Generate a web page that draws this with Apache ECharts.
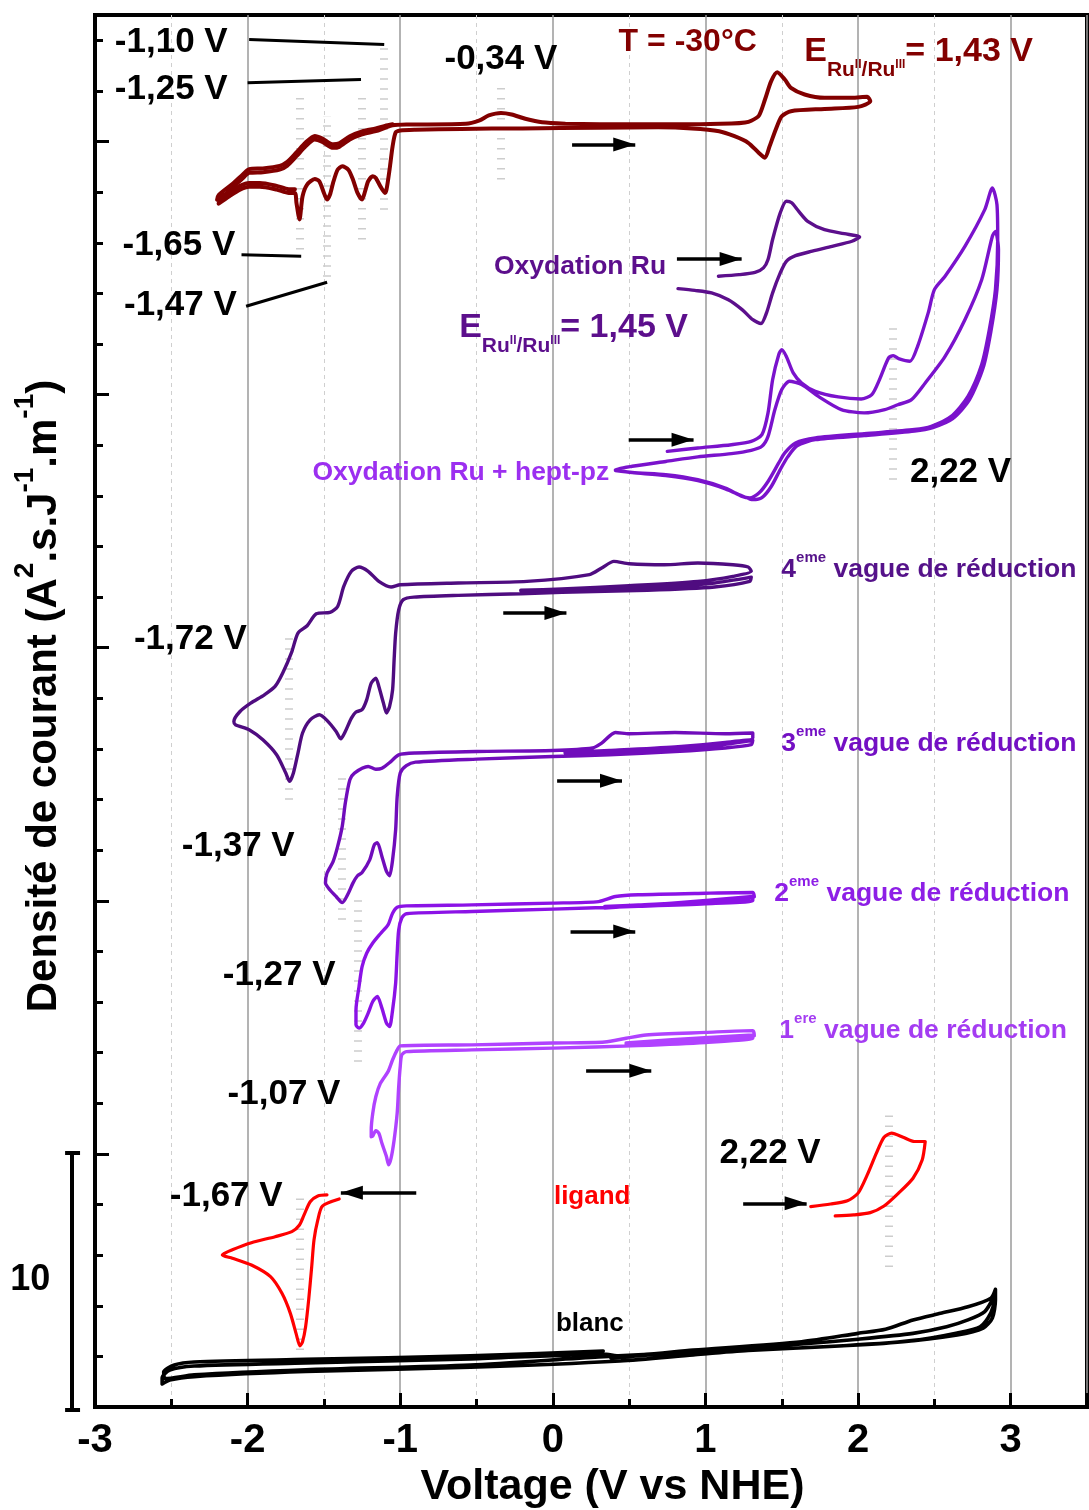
<!DOCTYPE html>
<html>
<head>
<meta charset="utf-8">
<script src="https://cdn.jsdelivr.net/npm/echarts@6/dist/echarts.min.js"></script>
<style>
  html, body { margin: 0; padding: 0; background: #fff; }
  #chart { width: 1089px; height: 1510px; }
</style>
</head>
<body>
<div id="chart"></div>
<script>
// ---- Cyclic voltammograms, potential (V vs NHE) / current density (stacked, arbitrary offset) ----

// T = -30 °C, full scan (dark red) and its second pass on the reduction side
const redScan1 = [
  [0.08,50.70],[0.50,50.68],[0.91,50.68],[1.17,50.71],[1.26,50.75],[1.30,50.82],[1.35,51.02],[1.39,51.66],[1.43,52.38],[1.47,52.74],[1.52,52.45],[1.56,52.12],[1.65,51.86],[1.78,51.73],[1.96,51.73],[2.06,51.77],
  [2.08,51.59],[2.00,51.37],[1.78,51.29],[1.56,51.20],[1.50,51.00],[1.46,50.47],[1.42,49.81],[1.39,49.36],[1.35,49.55],[1.28,49.95],[1.19,50.21],[1.09,50.41],[0.91,50.52],[0.69,50.56],[0.30,50.55],[-0.20,50.52],[-0.60,50.50],[-0.90,50.47],[-1.00,50.44],
  [-1.03,50.36],[-1.05,49.81],[-1.07,48.89],[-1.09,48.10],[-1.10,47.97],[-1.13,48.23],[-1.16,48.56],[-1.18,48.63],[-1.21,48.43],[-1.23,48.04],[-1.25,47.71],[-1.28,47.97],[-1.31,48.50],[-1.34,48.89],[-1.38,49.02],[-1.41,48.89],[-1.44,48.37],[-1.46,47.91],[-1.48,47.71],[-1.50,47.97],[-1.53,48.43],[-1.56,48.52],[-1.61,48.30],[-1.64,47.84],[-1.66,46.92],[-1.68,47.58],[-1.69,47.97],[-1.73,47.97],[-1.81,48.10],[-1.92,48.21],[-1.99,48.21],[-2.05,48.10],[-2.12,47.84],[-2.19,47.55],
  [-2.18,47.71],[-2.10,48.17],[-2.03,48.56],[-1.99,48.76],[-1.90,48.79],[-1.79,48.89],[-1.74,49.05],[-1.68,49.42],[-1.62,49.81],[-1.56,50.08],[-1.51,49.98],[-1.44,49.75],[-1.40,49.79],[-1.33,50.08],[-1.25,50.28],[-1.16,50.41],[-1.10,50.54],[-1.05,50.64],[-0.96,50.67],[-0.57,50.70],[-0.48,50.84],[-0.42,51.03],[-0.34,51.13],[-0.27,51.07],[-0.18,50.90],[-0.07,50.76],[0.08,50.70]
];
const redScan2 = [
  [-1.69,48.12],[-1.73,48.12],[-1.81,48.25],[-1.92,48.36],[-1.99,48.36],[-2.05,48.25],[-2.12,47.99],[-2.20,47.70],[-2.19,47.88],[-2.10,48.32],[-2.03,48.71],[-1.99,48.91],[-1.90,48.94],[-1.79,49.04],[-1.74,49.20],[-1.68,49.57],[-1.62,49.96],[-1.56,50.22],[-1.51,50.12],[-1.44,49.89],[-1.40,49.93],[-1.33,50.21],[-1.25,50.40],[-1.16,50.52],[-1.10,50.62],[-1.05,50.68]
];

// Ru oxidation only
const oxRuScan = [
  [1.085,44.68],[1.22,44.74],[1.325,44.83],[1.38,45.01],[1.41,45.34],[1.44,46.13],[1.49,47.18],[1.53,47.64],[1.565,47.58],[1.61,47.25],[1.67,46.85],[1.78,46.52],[1.91,46.36],[2.01,46.23],
  [1.96,46.06],[1.83,45.86],[1.70,45.67],[1.59,45.49],[1.53,45.27],[1.49,44.81],[1.44,44.02],[1.40,43.23],[1.364,42.81],[1.31,42.96],[1.24,43.36],[1.15,43.75],[1.04,44.02],[0.93,44.12],[0.82,44.19]
];

// Ru oxidation + hept-pz, two cycles
const heptScan = [
  [0.75,37.76],[0.95,37.89],[1.17,38.02],[1.30,38.15],[1.37,38.42],[1.41,39.28],[1.44,40.59],[1.48,41.58],[1.50,41.78],[1.53,41.51],[1.575,40.86],[1.63,40.46],[1.72,40.13],[1.87,39.91],[2.02,39.83],[2.09,40.00],[2.14,40.59],[2.20,41.45],[2.23,41.54],[2.27,41.41],[2.34,41.32],[2.39,41.91],[2.46,43.24],[2.50,44.15],[2.57,44.68],[2.70,45.86],[2.83,47.31],[2.88,48.17],
  [2.91,47.51],[2.915,46.13],[2.90,44.15],[2.86,42.57],[2.81,41.19],[2.72,39.93],[2.61,39.14],[2.48,38.75],[2.37,38.62],[2.04,38.46],[1.72,38.29],[1.59,38.09],[1.52,37.70],[1.48,37.30],[1.41,36.57],[1.35,36.11],[1.29,35.92],[1.24,35.98],[1.13,36.31],[0.95,36.64],[0.74,36.84],[0.52,36.93],[0.41,37.04],
  [0.52,37.17],[0.74,37.36],[0.95,37.54],[1.17,37.67],[1.30,37.80],[1.37,37.96],[1.41,38.35],[1.455,39.41],[1.50,40.20],[1.55,40.53],[1.63,40.40],[1.74,39.93],[1.89,39.41],[2.04,39.28],[2.175,39.41],[2.26,39.60],[2.35,39.80],[2.44,40.46],[2.57,41.51],[2.70,42.96],[2.81,44.54],[2.88,46.26],[2.90,46.45],
  [2.92,45.73],[2.91,44.15],[2.87,42.49],[2.82,41.07],[2.73,39.80],[2.62,39.05],[2.49,38.70],[2.37,38.56],[2.04,38.38],[1.72,38.22],[1.60,37.98],[1.54,37.55],[1.49,37.04],[1.43,36.36],[1.37,35.93],[1.31,35.85],[1.25,35.97],[1.13,36.28],[0.95,36.60],[0.74,36.80],[0.52,36.92],[0.41,37.00]
];

// 4th reduction wave
const wave4Scan = [
  [-0.21,32.25],[0.28,32.32],[0.73,32.40],[1.06,32.56],[1.30,32.79],
  [1.29,32.62],[1.06,32.40],[0.62,32.27],[0.06,32.19],[-0.21,32.13],[-0.62,32.07],[-0.91,32.00],[-0.98,31.90],[-1.01,31.50],[-1.03,30.58],[-1.04,29.53],[-1.05,28.34],[-1.07,27.68],[-1.09,27.42],[-1.11,27.81],[-1.14,28.47],[-1.16,28.80],[-1.19,28.60],[-1.22,27.94],[-1.25,27.55],[-1.29,27.46],[-1.32,27.22],[-1.36,26.69],[-1.39,26.40],[-1.42,26.69],[-1.48,27.13],[-1.53,27.35],[-1.59,27.15],[-1.64,26.63],[-1.67,25.84],[-1.70,25.05],[-1.725,24.72],[-1.75,25.05],[-1.81,25.77],[-1.90,26.36],[-1.99,26.76],[-2.08,26.96],
  [-2.09,27.09],[-2.05,27.48],[-1.98,27.81],[-1.89,28.14],[-1.82,28.47],[-1.77,29.00],[-1.71,29.85],[-1.67,30.58],[-1.61,30.87],[-1.55,31.34],[-1.46,31.40],[-1.41,31.63],[-1.37,32.42],[-1.32,33.02],[-1.27,33.19],[-1.21,33.02],[-1.14,32.62],[-1.06,32.40],[-1.00,32.49],[-0.62,32.56],[-0.17,32.62],[0.24,32.89],[0.32,33.15],[0.40,33.41],[0.50,33.32],[0.73,33.28],[0.95,33.35],[1.18,33.28],[1.28,33.19],
  [1.30,33.02],[1.18,32.82],[0.95,32.62],[0.50,32.45],[0.06,32.32],[-0.21,32.27]
];

// 3rd reduction wave
const wave3Scan = [
  [0.08,25.84],[0.58,25.94],[1.02,26.10],[1.31,26.34],
  [1.30,26.17],[1.13,26.04],[0.80,25.90],[0.37,25.77],[0.00,25.70],[-0.50,25.60],[-0.90,25.48],[-0.96,25.34],[-1.00,25.05],[-1.02,24.12],[-1.03,22.81],[-1.05,21.62],[-1.07,20.99],[-1.09,21.16],[-1.12,21.75],[-1.15,22.30],[-1.17,22.21],[-1.20,21.62],[-1.25,21.12],[-1.28,20.99],[-1.31,20.70],[-1.34,20.30],[-1.38,19.93],[-1.42,20.17],[-1.46,20.43],[-1.49,20.70],
  [-1.48,21.09],[-1.44,21.55],[-1.41,22.15],[-1.38,22.94],[-1.36,23.86],[-1.33,24.78],[-1.30,25.05],[-1.21,25.31],[-1.16,25.20],[-1.12,25.24],[-1.06,25.51],[-1.01,25.77],[-0.90,25.84],[-0.50,25.90],[0.00,25.94],[0.26,26.04],[0.32,26.23],[0.41,26.65],[0.50,26.60],[0.80,26.65],[1.13,26.60],[1.31,26.63],
  [1.31,26.43],[1.13,26.26],[0.80,26.08],[0.37,25.94],[0.08,25.86]
];

// 2nd reduction wave
const wave2Scan = [
  [0.34,19.71],[0.78,19.91],[1.31,20.17],
  [1.31,20.01],[1.00,19.88],[0.56,19.78],[0.00,19.67],[-0.53,19.58],[-0.96,19.49],[-0.99,19.32],[-1.01,18.85],[-1.02,17.93],[-1.03,16.75],[-1.05,15.69],[-1.07,15.03],[-1.09,15.17],[-1.12,15.76],[-1.15,16.22],[-1.18,16.02],[-1.21,15.56],[-1.24,15.17],[-1.27,14.97],[-1.29,15.10],
  [-1.29,15.69],[-1.27,16.61],[-1.25,17.40],[-1.22,17.93],[-1.18,18.33],[-1.13,18.70],[-1.08,19.05],[-1.05,19.51],[-1.02,19.75],[-0.96,19.80],[-0.53,19.84],[0.00,19.91],[0.30,19.97],[0.41,20.17],[0.56,20.24],[1.00,20.30],[1.31,20.33],
  [1.32,20.15],[1.00,19.97],[0.56,19.84],[0.34,19.78]
];

// 1st reduction wave
const wave1Scan = [
  [0.48,14.38],[0.78,14.51],[1.31,14.70],
  [1.31,14.57],[1.00,14.40],[0.56,14.28],[0.00,14.18],[-0.53,14.11],[-0.96,14.04],[-0.99,13.91],[-1.00,13.45],[-1.01,12.66],[-1.02,11.61],[-1.04,10.55],[-1.06,9.83],[-1.076,9.57],[-1.09,9.89],[-1.12,10.42],[-1.14,10.82],[-1.16,10.92],[-1.18,10.71],[-1.19,10.68],
  [-1.19,10.95],[-1.18,11.61],[-1.16,12.26],[-1.13,12.79],[-1.08,13.25],[-1.05,13.72],[-1.02,14.11],[-1.00,14.27],[-0.53,14.31],[0.00,14.38],[0.34,14.42],[0.48,14.57],[0.61,14.70],[1.00,14.80],[1.31,14.87],
  [1.32,14.66],[1.00,14.48],[0.56,14.38],[0.48,14.35]
];

// free ligand: reduction and oxidation windows
const ligandRed = [
  [-1.40,8.22],[-1.51,7.94],[-1.54,7.39],[-1.565,6.60],[-1.58,5.55],[-1.60,4.23],[-1.62,3.17],[-1.64,2.58],[-1.657,2.41],[-1.68,2.85],[-1.72,3.70],[-1.775,4.49],[-1.85,5.15],[-1.975,5.61],[-2.10,5.88],[-2.166,6.01],[-2.10,6.21],[-1.975,6.49],[-1.82,6.73],[-1.71,6.93],[-1.66,7.19],[-1.63,7.59],[-1.59,8.11],[-1.54,8.34],[-1.48,8.38]
];
const ligandOx = [
  [1.69,7.92],[1.82,8.02],[1.93,8.15],[2.00,8.45],[2.06,9.17],[2.12,10.03],[2.17,10.66],[2.22,10.82],[2.295,10.66],[2.37,10.49],[2.44,10.49],[2.42,9.76],[2.36,9.04],[2.265,8.45],[2.17,7.94],[2.08,7.68],[1.97,7.59],[1.85,7.55]
];

// blank electrolyte, three cycles
const blankScan = [
  [0.38,1.94],[0.92,2.19],[1.63,2.49],[2.00,2.68],[2.36,2.91],[2.58,3.17],[2.72,3.44],[2.83,3.77],[2.89,4.36],
  [2.89,4.23],[2.87,3.72],[2.80,3.17],[2.65,2.92],[2.36,2.62],[2.00,2.45],[1.28,2.23],[0.92,2.06],[0.44,1.82],[-0.54,1.57],[-1.62,1.40],[-2.35,1.20],[-2.51,1.07],[-2.56,0.91],
  [-2.56,1.15],[-2.51,1.46],[-2.35,1.62],[-1.62,1.74],[-0.54,1.90],[0.33,2.09],[0.44,2.02],[0.92,2.25],[1.63,2.58],[2.00,2.91],[2.18,3.07],[2.36,3.44],[2.54,3.70],[2.72,3.96],[2.87,4.30],[2.90,4.65],
  [2.90,4.23],[2.88,3.52],[2.82,3.12],[2.65,2.85],[2.26,2.57],[1.61,2.33],[0.95,2.17],[0.30,1.98],[-0.54,1.66],[-1.62,1.47],[-2.35,1.27],[-2.54,1.12],
  [-2.55,1.38],[-2.48,1.66],[-2.35,1.78],[-1.62,1.88],[-0.54,2.02],[0.33,2.21]
];

// peak-potential guides: [potential, lower current, upper current]
const peakGuides = [
  [-1.66,45.73,51.94],[-1.48,44.66,50.99],[-1.25,46.13,52.06],[-1.105,47.31,53.91],[-0.34,48.50,52.45],
  [2.23,36.64,42.96],[-1.73,23.99,30.51],[-1.386,19.25,25.10],[-1.28,13.64,20.04],[-1.657,2.25,8.46],[2.20,5.53,11.74]
];

// leader lines from peak labels, and sweep-direction arrows
const leaders = [
  [[-1.99,54.03],[-1.105,53.83]],
  [[-2.00,52.32],[-1.257,52.45]],
  [[-2.04,45.53],[-1.649,45.47]],
  [[-2.01,43.49],[-1.479,44.44]]
];
const sweepArrows = [
  [[0.126,49.88],[0.540,49.88]],
  [[0.813,45.36],[1.237,45.36]],
  [[0.497,38.22],[0.922,38.22]],
  [[-0.325,31.37],[0.089,31.37]],
  [[0.028,24.74],[0.453,24.74]],
  [[0.116,18.79],[0.540,18.79]],
  [[0.218,13.29],[0.645,13.29]],
  [[-0.895,8.47],[-1.389,8.47]],
  [[1.247,8.05],[1.663,8.05]]
];
// scale bar of 10 current units, left of the axis
const scaleBar = [
  [[-3.15,-0.12],[-3.15,10.04]],
  [[-3.196,10.04],[-3.098,10.04]],
  [[-3.196,-0.12],[-3.098,-0.12]]
];

// peak potential labels [V, I, text]
const peakLabels = [
  [-2.87,53.91,'-1,10 V'],[-2.87,52.06,'-1,25 V'],[-0.71,53.24,'-0,34 V'],
  [-2.82,45.89,'-1,65 V'],[-2.81,43.52,'-1,47 V'],[2.34,36.92,'2,22 V'],
  [-2.745,30.32,'-1,72 V'],[-2.431,22.17,'-1,37 V'],[-2.163,17.04,'-1,27 V'],
  [-2.131,12.37,'-1,07 V'],[1.092,10.04,'2,22 V'],[-2.51,8.34,'-1,67 V']
];

const xTickStep = 1;
const yTickStep = 10;

const FONT = "'Liberation Sans', Arial, Helvetica, sans-serif";
const C = {
  red: '#820000', oxRu: '#5c0f8c', hept: '#7a12cc', heptText: '#9c2ff0',
  w4: '#4f0c80', w4t: '#55128a', w3: '#700cbb', w3t: '#7410c4',
  w2: '#8b12e6', w2t: '#8d1ee6', w1: '#b042ff', w1t: '#a43cf2',
  lig: '#ff0000', blank: '#000000'
};

function cv(data, color, width) {
  return {
    type: 'line', data: data, showSymbol: false, symbol: 'none', smooth: 0.25,
    lineStyle: { color: color, width: width, join: 'round', cap: 'round', opacity: 1 },
    silent: true, z: 3, animation: false
  };
}

function eRich(c) {
  const base = { color: c, fontWeight: 'bold', fontFamily: FONT, verticalAlign: 'top', opacity: 1 };
  return {
    big: Object.assign({ fontSize: 34 }, base),
    sub: Object.assign({ fontSize: 21, padding: [25, 0, 0, 0] }, base),
    sup: Object.assign({ fontSize: 12, padding: [24, 0, 0, 0] }, base)
  };
}
function waveRich(c) {
  const base = { color: c, fontWeight: 'bold', fontFamily: FONT, verticalAlign: 'top', opacity: 1 };
  return {
    wm: Object.assign({ fontSize: 26.5, padding: [6, 0, 0, 0] }, base),
    ws: Object.assign({ fontSize: 15 }, base)
  };
}
function note(v, i, text, color, size, rich) {
  const label = { show: true, position: 'right', distance: 0, formatter: text, color: color,
    fontSize: size, fontWeight: 'bold', fontFamily: FONT, opacity: 1, textBorderWidth: 0 };
  if (rich) label.rich = rich;
  return { value: [v, i], label: label };
}

const notes = peakLabels.map(p => note(p[0], p[1], p[2], '#000', 35));
notes.push(note(0.431, 53.91, 'T = -30°C', C.red, 32));
notes.push(note(1.647, 53.32, '{big|E}{sub|Ru}{sup|II}{sub|/Ru}{sup|III}{big|= 1,43 V}', C.red, 34, eRich(C.red)));
notes.push(note(-0.386, 45.06, 'Oxydation Ru', C.oxRu, 26.5));
notes.push(note(-0.614, 42.41, '{big|E}{sub|Ru}{sup|II}{sub|/Ru}{sup|III}{big|= 1,45 V}', C.oxRu, 34, eRich(C.oxRu)));
notes.push(note(-1.575, 36.92, 'Oxydation Ru + hept-pz', C.heptText, 26.5));
notes.push(note(1.497, 33.20, '{wm|4}{ws|eme}{wm| vague de réduction}', C.w4t, 26.5, waveRich(C.w4t)));
notes.push(note(1.497, 26.32, '{wm|3}{ws|eme}{wm| vague de réduction}', C.w3t, 26.5, waveRich(C.w3t)));
notes.push(note(1.451, 20.40, '{wm|2}{ws|eme}{wm| vague de réduction}', C.w2t, 26.5, waveRich(C.w2t)));
notes.push(note(1.484, 14.98, '{wm|1}{ws|ere}{wm| vague de réduction}', C.w1t, 26.5, waveRich(C.w1t)));
notes.push(note(0.007, 8.30, 'ligand', C.lig, 26));
notes.push(note(0.02, 3.28, 'blanc', '#000', 26));
notes.push(note(-3.556, 5.02, '10', '#000', 36));

const ARROW_HEAD = 'path://M0,0M44,44M22,22L29,44L15,44Z';

const chart = echarts.init(document.getElementById('chart'), null, { renderer: 'canvas' });
chart.setOption({
  animation: false,
  backgroundColor: '#ffffff',
  grid: { left: 95, right: 2, top: 15, bottom: 103, show: true, borderColor: '#000', borderWidth: 4,
          containLabel: false, outerBoundsMode: 'none' },
  xAxis: {
    type: 'value', min: -3, max: 3.5, interval: xTickStep,
    axisLine: { onZero: false, lineStyle: { color: '#000', width: 4 } },
    axisTick: { inside: true, length: 14, lineStyle: { color: '#000', width: 3 } },
    minorTick: { show: true, splitNumber: 2, length: 8, lineStyle: { color: '#000', width: 3 } },
    splitLine: { show: true, lineStyle: { color: '#9a9a9a', width: 1.5 } },
    minorSplitLine: { show: true, lineStyle: { color: '#cfcfcf', width: 1, type: [4, 4] } },
    axisLabel: { fontSize: 40, fontWeight: 'bold', color: '#000', fontFamily: FONT, margin: 14,
                 showMaxLabel: false,
                 formatter: v => (Math.abs(v - Math.round(v)) < 1e-9 ? String(Math.round(v)) : '') },
    name: 'Voltage (V vs NHE)', nameLocation: 'middle', nameGap: 56,
    nameTextStyle: { fontSize: 43, fontWeight: 'bold', color: '#000', fontFamily: FONT, padding: [0, 0, 0, 43] }
  },
  yAxis: {
    type: 'value', min: 0, max: 55, interval: yTickStep,
    axisLine: { show: true, onZero: false, lineStyle: { color: '#000', width: 4 } },
    axisTick: { show: true, inside: true, length: 14, lineStyle: { color: '#000', width: 3 } },
    minorTick: { show: true, splitNumber: 5, length: 8, lineStyle: { color: '#000', width: 3 } },
    splitLine: { show: false },
    axisLabel: { show: false },
    name: '{m|Densité de courant (A}{s|2}{m|.s.J}{s|-1}{m|.m}{s|-1}{m|)}',
    nameLocation: 'middle', nameRotate: 90, nameGap: 30,
    nameTextStyle: {
      color: '#000', fontFamily: FONT, fontWeight: 'bold', fontSize: 42, padding: [0, 0, 0, 30],
      rich: {
        m: { fontSize: 42, fontWeight: 'bold', fontFamily: FONT, color: '#000', verticalAlign: 'top', padding: [12, 0, 0, 0] },
        s: { fontSize: 28, fontWeight: 'bold', fontFamily: FONT, color: '#000', verticalAlign: 'top' }
      }
    }
  },
  series: [
    {
      type: 'lines', coordinateSystem: 'cartesian2d', polyline: false, silent: true, z: 1,
      data: peakGuides.map(g => ({ coords: [[g[0], g[1]], [g[0], g[2]]] })),
      lineStyle: { color: '#cdcdcd', width: 8, type: [1.5, 8.5], cap: 'butt', opacity: 1 }
    },
    cv(blankScan, C.blank, 3.6),
    cv(ligandRed, C.lig, 3.2),
    cv(ligandOx, C.lig, 3.2),
    cv(wave1Scan, C.w1, 3.4),
    cv(wave2Scan, C.w2, 3.4),
    cv(wave3Scan, C.w3, 3.4),
    cv(wave4Scan, C.w4, 3.4),
    cv(heptScan, C.hept, 3.4),
    cv(oxRuScan, C.oxRu, 3.4),
    cv(redScan1, C.red, 4),
    cv(redScan2, C.red, 4),
    {
      type: 'lines', coordinateSystem: 'cartesian2d', polyline: false, silent: true, z: 4,
      data: leaders.map(c => ({ coords: c })),
      lineStyle: { color: '#000', width: 3, opacity: 1 }
    },
    {
      type: 'lines', coordinateSystem: 'cartesian2d', polyline: false, silent: true, z: 4,
      symbol: ['none', ARROW_HEAD], symbolSize: 44,
      data: sweepArrows.map(c => ({ coords: c })),
      lineStyle: { color: '#000', width: 3.5, opacity: 1 }
    },
    {
      type: 'lines', coordinateSystem: 'cartesian2d', polyline: false, silent: true, z: 4, clip: false,
      data: scaleBar.map(c => ({ coords: c })),
      lineStyle: { color: '#000', width: 4, opacity: 1 }
    },
    {
      type: 'scatter', symbolSize: 0, silent: true, z: 5, clip: false,
      itemStyle: { opacity: 1 },
      data: notes
    }
  ]
});
</script>
</body>
</html>
